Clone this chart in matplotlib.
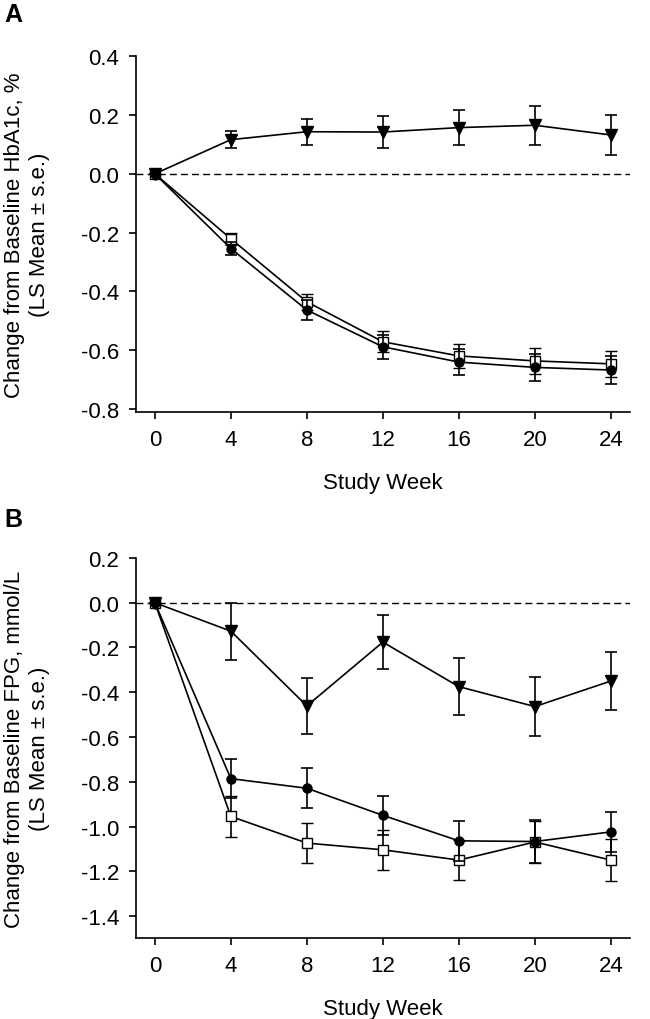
import numpy as np
import matplotlib.pyplot as plt

plt.rcParams['font.family'] = ['Liberation Sans', 'DejaVu Sans']

weeks = [0, 4, 8, 12, 16, 20, 24]

# Panel A: HbA1c change (%)
a_tri = [0.0, 0.116, 0.143, 0.142, 0.157, 0.165, 0.132]
a_tri_se = [0.0, 0.030, 0.044, 0.054, 0.060, 0.066, 0.068]
a_sq = [0.0, -0.221, -0.435, -0.571, -0.619, -0.636, -0.646]
a_sq_se = [0.0, 0.021, 0.028, 0.035, 0.040, 0.043, 0.045]
a_ci = [0.0, -0.254, -0.463, -0.588, -0.640, -0.658, -0.667]
a_ci_se = [0.0, 0.023, 0.033, 0.040, 0.044, 0.046, 0.048]

# Panel B: FPG change (mmol/L)
b_tri = [0.0, -0.127, -0.461, -0.176, -0.375, -0.464, -0.350]
b_tri_se = [0.0, 0.127, 0.124, 0.120, 0.126, 0.130, 0.130]
b_ci = [0.0, -0.786, -0.829, -0.950, -1.064, -1.067, -1.024]
b_ci_se = [0.0, 0.088, 0.090, 0.088, 0.088, 0.095, 0.090]
b_sq = [0.0, -0.955, -1.074, -1.104, -1.150, -1.069, -1.150]
b_sq_se = [0.0, 0.090, 0.090, 0.090, 0.090, 0.095, 0.095]

fig = plt.figure(figsize=(6.5, 10.2), dpi=100)
axA = fig.add_axes([0.209, 0.595, 0.76, 0.349])
axB = fig.add_axes([0.209, 0.079, 0.76, 0.373])

ekw = dict(color='black', ecolor='black', elinewidth=1.2, capsize=4.5,
           capthick=1.2, linewidth=1.2)


def draw(ax, tri, tri_se, sq, sq_se, ci, ci_se):
    ax.axhline(0, color='black', linestyle=(0, (5, 3)), linewidth=1.0, zorder=1)
    ax.errorbar(weeks, sq, yerr=sq_se, marker='s', markersize=6.5,
                markerfacecolor='white', markeredgecolor='black',
                markeredgewidth=1.0, zorder=2, **ekw)
    ax.errorbar(weeks, ci, yerr=ci_se, marker='o', markersize=6.5,
                markerfacecolor='black', markeredgecolor='black', zorder=3, **ekw)
    ax.errorbar(weeks, tri, yerr=tri_se, marker='v', markersize=8,
                markerfacecolor='black', markeredgecolor='black', zorder=4, **ekw)
    ax.set_xlim(-1, 25)
    ax.set_xticks(weeks)
    ax.spines['top'].set_visible(False)
    ax.spines['right'].set_visible(False)
    for s in ['left', 'bottom']:
        ax.spines[s].set_linewidth(1.2)
    ax.tick_params(direction='out', length=5, width=1.2, labelsize=16, pad=7)
    ax.set_xlabel('Study Week', fontsize=16, labelpad=16)


draw(axA, a_tri, a_tri_se, a_sq, a_sq_se, a_ci, a_ci_se)
axA.set_ylim(-0.81, 0.4)
axA.set_yticks(np.arange(-0.8, 0.41, 0.2))
axA.set_yticklabels(['-0.8', '-0.6', '-0.4', '-0.2', '0.0', '0.2', '0.4'])
axA.set_ylabel('Change from Baseline HbA1c, %\n(LS Mean \u00b1 s.e.)',
               fontsize=16, linespacing=1.25, labelpad=22)

draw(axB, b_tri, b_tri_se, b_sq, b_sq_se, b_ci, b_ci_se)
axB.set_ylim(-1.5, 0.2)
axB.set_yticks(np.arange(-1.4, 0.21, 0.2))
axB.set_yticklabels(['-1.4', '-1.2', '-1.0', '-0.8', '-0.6', '-0.4', '-0.2', '0.0', '0.2'])
axB.set_ylabel('Change from Baseline FPG, mmol/L\n(LS Mean \u00b1 s.e.)',
               fontsize=16, linespacing=1.25, labelpad=22)

fig.text(0.006, 0.997, 'A', fontsize=18, fontweight='bold', va='top', ha='left')
fig.text(0.006, 0.502, 'B', fontsize=18, fontweight='bold', va='top', ha='left')

fig.savefig('out.png', dpi=100)
